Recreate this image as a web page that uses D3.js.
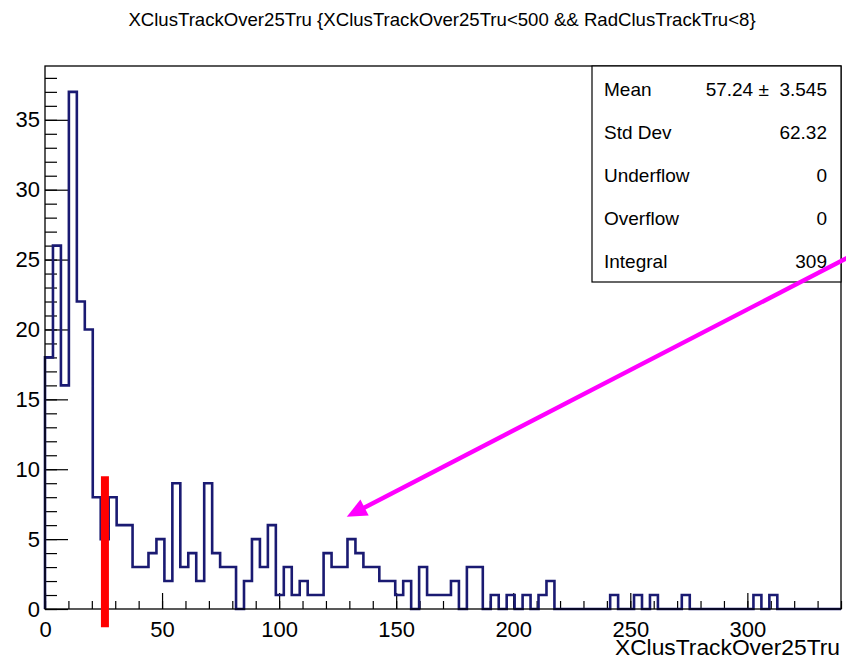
<!DOCTYPE html>
<html>
<head>
<meta charset="utf-8">
<script src="https://cdn.jsdelivr.net/npm/d3@7"></script>
<style>
  body { margin: 0; background: #fff; }
  text { font-family: "Liberation Sans", Arial, Helvetica, sans-serif; fill: #000; }
</style>
</head>
<body>
<div id="chart"></div>
<script>
// histogram settings
var xMin = 0, xMax = 340, nBins = 100;
var yMax = 38.85;

// bin contents (100 bins of width 3.4)
var counts = [
  18, 26, 16, 37, 22, 20, 8, 5, 8, 6,
  6, 3, 3, 4, 5, 2, 9, 3, 4, 2,
  9, 4, 3, 3, 0, 2, 5, 3, 6, 1,
  3, 1, 2, 1, 1, 4, 3, 3, 5, 4,
  3, 3, 2, 2, 1, 2, 0, 3, 1, 1,
  1, 2, 0, 3, 3, 0, 1, 0, 1, 0,
  1, 0, 1, 2, 0, 0, 0, 0, 0, 0,
  0, 1, 0, 0, 1, 0, 1, 0, 0, 0,
  1, 0, 0, 0, 0, 0, 0, 0, 0, 1,
  0, 1, 0, 0, 0, 0, 0, 0, 0, 0
];

var xMajorTicks = [0, 50, 100, 150, 200, 250, 300];
var yMajorTicks = [0, 5, 10, 15, 20, 25, 30, 35];

var title = "XClusTrackOver25Tru {XClusTrackOver25Tru<500 && RadClusTrackTru<8}";
var xTitle = "XClusTrackOver25Tru";

var statLabels = ["Mean", "Std Dev", "Underflow", "Overflow", "Integral"];
var statValues = ["57.24 \u00b1  3.545", "62.32", "0", "0", "309"];

// annotations (data coords)
var cutValue = 25.6, cutLow = -1.3, cutHigh = 9.5;
var arrowFrom = [343.5, 25.2], arrowTo = [128.9, 6.6];

var margin = { top: 66, right: 5, bottom: 52, left: 45 },
    W = 846, H = 661,
    width = W - margin.left - margin.right,
    height = H - margin.top - margin.bottom;

var svg = d3.select("#chart").append("svg")
    .attr("width", W)
    .attr("height", H);

var x = d3.scaleLinear().domain([xMin, xMax]).range([margin.left, margin.left + width]);
var y = d3.scaleLinear().domain([0, yMax]).range([margin.top + height, margin.top]);

var bw = (xMax - xMin) / nBins;

// title
svg.append("text")
    .attr("x", 442)
    .attr("y", 26)
    .attr("text-anchor", "middle")
    .style("font-size", "18.6px")
    .text(title);

// minor ticks
svg.append("g")
    .attr("transform", "translate(0," + y(0) + ")")
    .call(d3.axisBottom(x).tickValues(d3.range(0, 341, 10)).tickSize(-8).tickFormat(""))
    .call(function(g) { g.select(".domain").remove(); });

svg.append("g")
    .attr("transform", "translate(" + x(0) + ",0)")
    .call(d3.axisLeft(y).tickValues(d3.range(0, 39, 1)).tickSize(-12).tickFormat(""))
    .call(function(g) { g.select(".domain").remove(); });

// major ticks + labels
var xAxis = svg.append("g")
    .attr("transform", "translate(0," + y(0) + ")")
    .call(d3.axisBottom(x).tickValues(xMajorTicks).tickSize(-16).tickPadding(12).tickFormat(d3.format("d")));
xAxis.select(".domain").remove();
xAxis.selectAll("text").style("font-size", "22px").attr("font-family", null);

var yAxis = svg.append("g")
    .attr("transform", "translate(" + x(0) + ",0)")
    .call(d3.axisLeft(y).tickValues(yMajorTicks).tickSize(-23).tickPadding(5).tickFormat(d3.format("d")));
yAxis.select(".domain").remove();
yAxis.selectAll("text").style("font-size", "22px").attr("font-family", null);

svg.selectAll(".tick line").attr("stroke", "#000").attr("stroke-width", 1.2);

// histogram outline
var pts = [[xMin, 0]];
counts.forEach(function(c, i) {
    pts.push([xMin + i * bw, c]);
    pts.push([xMin + (i + 1) * bw, c]);
});
pts.push([xMax, 0]);

svg.append("path")
    .datum(pts)
    .attr("fill", "none")
    .attr("stroke", "#1a1a72")
    .attr("stroke-width", 2.6)
    .attr("d", d3.line().x(function(d) { return x(d[0]); }).y(function(d) { return y(d[1]); }));

// frame
svg.append("rect")
    .attr("x", margin.left)
    .attr("y", margin.top)
    .attr("width", width)
    .attr("height", height)
    .attr("fill", "none")
    .attr("stroke", "#000")
    .attr("stroke-width", 1.3);

// x title
svg.append("text")
    .attr("x", margin.left + width - 1)
    .attr("y", 655)
    .attr("text-anchor", "end")
    .style("font-size", "22.8px")
    .text(xTitle);

// stats box
var sb = { x0: 592, y0: margin.top, x1: margin.left + width, y1: 282 };
svg.append("rect")
    .attr("x", sb.x0)
    .attr("y", sb.y0)
    .attr("width", sb.x1 - sb.x0)
    .attr("height", sb.y1 - sb.y0)
    .attr("fill", "#fff")
    .attr("stroke", "#000")
    .attr("stroke-width", 1.2);

var rows = svg.append("g").selectAll("g")
    .data(statLabels)
    .enter().append("g")
    .attr("transform", function(d, i) { return "translate(0," + (96 + i * 43) + ")"; });

rows.append("text")
    .attr("x", 604)
    .style("font-size", "19px")
    .text(function(d) { return d; });

rows.append("text")
    .attr("x", 827)
    .attr("text-anchor", "end")
    .style("font-size", "19px")
    .style("white-space", "pre")
    .text(function(d, i) { return statValues[i]; });

// red cut marker
svg.append("line")
    .attr("x1", x(cutValue)).attr("x2", x(cutValue))
    .attr("y1", y(cutLow)).attr("y2", y(cutHigh))
    .attr("stroke", "#ff0000")
    .attr("stroke-width", 8);

// magenta arrow
var ax0 = x(arrowFrom[0]), ay0 = y(arrowFrom[1]),
    ax1 = x(arrowTo[0]), ay1 = y(arrowTo[1]);
var ang = Math.atan2(ay1 - ay0, ax1 - ax0);
var headLen = 20, headW = 9;
var bx = ax1 - headLen * Math.cos(ang), by = ay1 - headLen * Math.sin(ang);

svg.append("line")
    .attr("x1", ax0).attr("y1", ay0)
    .attr("x2", bx + 2 * Math.cos(ang)).attr("y2", by + 2 * Math.sin(ang))
    .attr("stroke", "#ff00ff")
    .attr("stroke-width", 4.4);

svg.append("path")
    .attr("fill", "#ff00ff")
    .attr("d", "M" + ax1 + "," + ay1 +
        "L" + (bx + headW * Math.sin(ang)) + "," + (by - headW * Math.cos(ang)) +
        "L" + (bx - headW * Math.sin(ang)) + "," + (by + headW * Math.cos(ang)) + "Z");
</script>
</body>
</html>
